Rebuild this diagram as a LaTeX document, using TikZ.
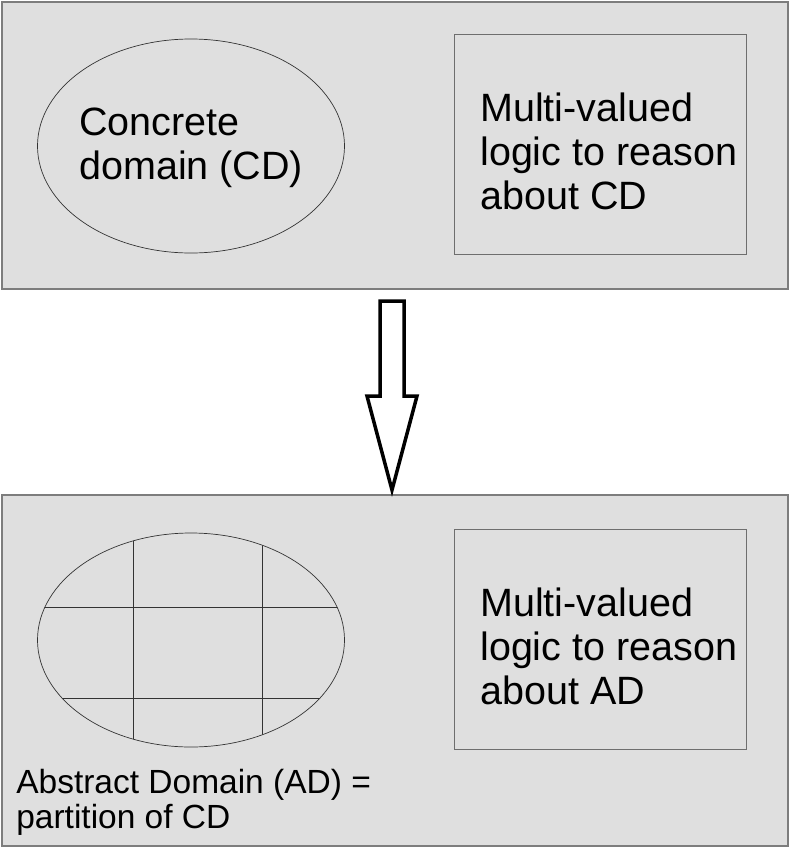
\documentclass[tikz,border=0pt]{standalone}
\usepackage{fontspec}
\setmainfont{Liberation Sans}
\usetikzlibrary{positioning}
\usetikzlibrary{shapes.geometric}
\definecolor{panelfill}{RGB}{223,223,223}
\definecolor{panelline}{RGB}{125,125,125}
\definecolor{boxline}{RGB}{110,110,110}
\begin{document}
\begin{tikzpicture}[x=1pt,y=-1pt,semithick]
		\tikzstyle{panel}=[draw=panelline,fill=panelfill,line width=1.5pt,anchor=north west,minimum width=786pt,inner sep=0pt]
		\tikzstyle{logicbox}=[draw=boxline,line width=0.9pt,anchor=north west,minimum width=292pt,minimum height=220pt,inner sep=0pt]
		\tikzstyle{domainset}=[draw=black!80,line width=0.7pt,ellipse,minimum width=307pt,minimum height=214pt,inner sep=0pt]
		\tikzstyle{bigtext}=[anchor=north west,inner sep=0pt,align=left,font=\fontsize{39.5}{44}\selectfont]
		\tikzstyle{smalltext}=[anchor=north west,inner sep=0pt,align=left,font=\fontsize{33.5}{35}\selectfont]
		
		\useasboundingbox (0,0) rectangle (789,847);
		
		% concrete level
		\node[panel,minimum height=287pt]       (top)    at (1,1)       {};
		\node[domainset]       (cd)    at (191,146)      {};
		\node[logicbox]       (cdlogic)    at (454,34)      {};
		\node[bigtext]       (cdtext)    at (79,108)      {Concrete\\domain (CD)};
		\node[bigtext]       (cdlogictext)    at (480,93)      {Multi-valued\\logic to reason\\about CD};
		
		% abstract level
		\node[panel,minimum height=351pt]       (bottom)    at (1,494)       {};
		\node[domainset]       (ad)    at (191,640)      {};
		\node[logicbox]       (adlogic)    at (454,529)      {};
		\node[bigtext]       (adlogictext)    at (480,588)      {Multi-valued\\logic to reason\\about AD};
		\node[smalltext]       (adtext)    at (16,769)      {Abstract Domain (AD) =\\partition of CD};
		
		% partition
		\begin{scope}
		\clip (ad.center) ellipse [x radius=153.5pt, y radius=107pt];
		\draw[black!80,line width=0.7pt] (133,520) -- (133,760)
		(262,520) -- (262,760)
		(30,607) -- (350,607)
		(30,698) -- (350,698);
		\end{scope}
		
		% abstraction arrow
		\draw[line width=3.5pt,line join=miter,fill=white] (380,301) -- (404,301) -- (404,396) -- (417,396) -- (392,490)
		-- (367,396) -- (380,396) -- cycle;
		\end{tikzpicture}
\end{document}
